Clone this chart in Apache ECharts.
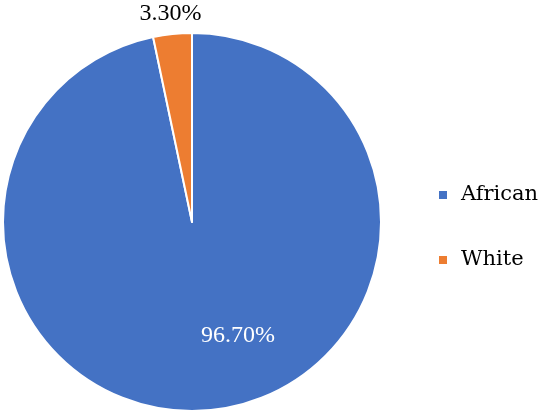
<!DOCTYPE html>
<html>
<head>
<meta charset="utf-8">
<script src="https://cdn.jsdelivr.net/npm/echarts@6/dist/echarts.min.js"></script>
<style>html,body{margin:0;padding:0;background:#fff}#c{width:550px;height:416px}</style>
</head>
<body>
<div id="c"></div>
<script>
const categories = ['African', 'White'];
const values = [96.70, 3.30];
const colors = ['#4472C4', '#ED7D31'];

const chart = echarts.init(document.getElementById('c'), null, {renderer: 'canvas'});
const data = categories.map((name, i) => ({
  name: name,
  value: values[i],
  itemStyle: {color: colors[i]},
  label: i === 0
    ? {position: 'inside', color: '#ffffff'}
    : {position: 'outside', color: '#000000'},
  labelLine: {show: false, length: 10, length2: 0}
}));

chart.setOption({
  animation: false,
  backgroundColor: '#ffffff',
  legend: {
    orient: 'vertical',
    left: 432,
    top: 178,
    itemWidth: 10,
    itemHeight: 10,
    itemGap: 41,
    icon: 'rect',
    data: categories,
    textStyle: {fontFamily: 'DejaVu Serif', fontSize: 21, color: '#000', padding: [0, 0, 0, 8], lineHeight: 24}
  },
  series: [{
    type: 'pie',
    center: [192, 222],
    radius: 189,
    startAngle: 90,
    clockwise: true,
    avoidLabelOverlap: false,
    itemStyle: {borderColor: '#ffffff', borderWidth: 2},
    label: {
      show: true,
      fontFamily: 'Liberation Serif',
      fontSize: 24,
      formatter: p => p.value.toFixed(2) + '%'
    },
    labelLayout: function (p) {
      if (p.dataIndex === 0) return {dx: 36, dy: 17};
      return {align: 'center', verticalAlign: 'bottom', dx: 4, dy: 2};
    },
    data: data
  }]
});
</script>
</body>
</html>
